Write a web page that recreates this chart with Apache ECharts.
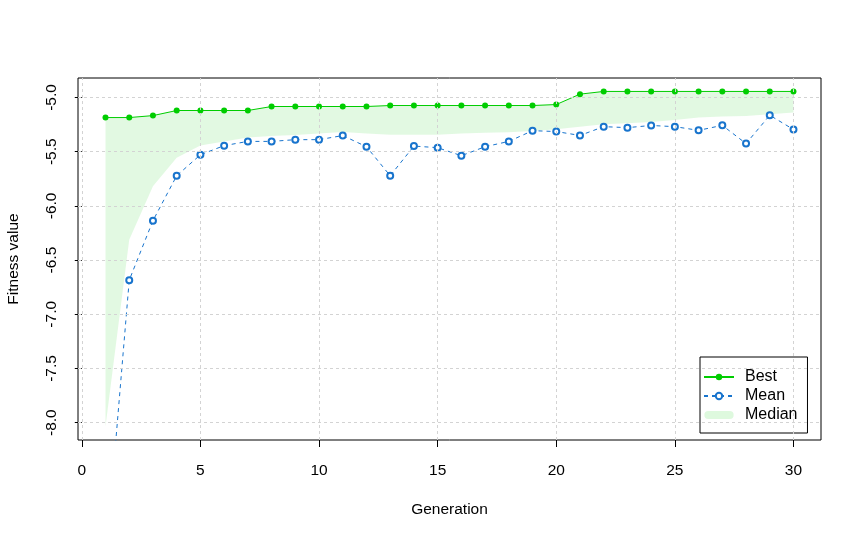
<!DOCTYPE html>
<html>
<head>
<meta charset="utf-8">
<script src="https://cdn.jsdelivr.net/npm/echarts@6/dist/echarts.min.js"></script>
<style>
html,body{margin:0;padding:0;background:#fff;}
#chart{width:862px;height:538px;}
</style>
</head>
<body>
<div id="chart"></div>
<script>
const generations = [1,2,3,4,5,6,7,8,9,10,11,12,13,14,15,16,17,18,19,20,21,22,23,24,25,26,27,28,29,30];
const best = [-5.185,-5.185,-5.167,-5.120,-5.120,-5.120,-5.120,-5.083,-5.083,-5.083,-5.083,-5.083,-5.074,-5.074,-5.074,-5.074,-5.074,-5.074,-5.074,-5.065,-4.969,-4.944,-4.944,-4.944,-4.944,-4.944,-4.944,-4.944,-4.944,-4.944];
const mean = [-9.30,-6.685,-6.136,-5.722,-5.528,-5.444,-5.405,-5.405,-5.389,-5.389,-5.351,-5.454,-5.722,-5.448,-5.463,-5.537,-5.454,-5.405,-5.306,-5.314,-5.350,-5.269,-5.278,-5.258,-5.269,-5.303,-5.257,-5.425,-5.164,-5.295];
const median = [-8.035,-6.312,-5.819,-5.556,-5.442,-5.405,-5.370,-5.356,-5.346,-5.333,-5.319,-5.333,-5.343,-5.343,-5.343,-5.331,-5.324,-5.321,-5.308,-5.294,-5.269,-5.247,-5.238,-5.226,-5.207,-5.185,-5.176,-5.170,-5.155,-5.139];
const xTicks = [0,5,10,15,20,25,30];
const yTicks = [-8.0,-7.5,-7.0,-6.5,-6.0,-5.5,-5.0];

const FONT = 'Liberation Sans, Arial, sans-serif';
const FS = 15.5;
const GREEN = '#00CD00';
const BLUE = '#1874CD';
const FILL = 'rgba(0,205,0,0.115)';

const pair = arr => generations.map((g, i) => [g, arr[i]]);
const bandData = generations.map((g, i) => [g, median[i], best[i]]);
const gridLines = xTicks.map(v => ({xAxis: v})).concat(yTicks.map(v => ({yAxis: v})));

const chart = echarts.init(document.getElementById('chart'), null, {renderer: 'canvas'});
chart.setOption({
  animation: false,
  backgroundColor: '#fff',
  textStyle: {fontFamily: FONT},
  grid: {left: 78, top: 78, right: 41, bottom: 98, show: true, borderColor: '#000', borderWidth: 1,
    backgroundColor: 'transparent', containLabel: false, outerBoundsMode: 'none'},
  xAxis: {
    type: 'value', min: -0.16, max: 31.16,
    name: 'Generation', nameLocation: 'middle', nameGap: 62,
    nameTextStyle: {color: '#000', fontSize: FS, fontFamily: FONT},
    axisLine: {show: false},
    axisTick: {show: true, length: 7, customValues: xTicks, lineStyle: {color: '#000'}},
    axisLabel: {customValues: xTicks, color: '#000', fontSize: FS, fontFamily: FONT, margin: 23},
    splitLine: {show: false}
  },
  yAxis: {
    type: 'value', min: -8.16, max: -4.82,
    name: 'Fitness value', nameLocation: 'middle', nameGap: 56, nameRotate: 90,
    nameTextStyle: {color: '#000', fontSize: FS, fontFamily: FONT},
    axisLine: {show: false},
    axisTick: {show: true, length: 7, customValues: yTicks, lineStyle: {color: '#000'}},
    axisLabel: {customValues: yTicks, color: '#000', fontSize: FS, fontFamily: FONT, margin: 18, rotate: 90,
      formatter: v => v.toFixed(1)},
    splitLine: {show: false}
  },
  legend: {
    orient: 'vertical', left: 700, top: 357,
    backgroundColor: '#fff', borderColor: '#000', borderWidth: 1, borderRadius: 0,
    padding: [11, 10, 9, 3], itemGap: 1, itemWidth: 30, itemHeight: 8,
    textStyle: {color: '#000', fontSize: 16, fontFamily: FONT, lineHeight: 18, padding: [0, 0, 0, 6]},
    data: [
      {name: 'Best'},
      {name: 'Mean'},
      {name: 'Median', icon: 'path://M5,0 H29 A4.5,4.5 0 0 1 29,9 H5 A4.5,4.5 0 0 1 5,0 Z', itemStyle: {color: 'rgba(0,205,0,0.13)'}}
    ]
  },
  series: [
    {
      name: 'Median', type: 'custom', data: bandData, encode: {x: 0, y: [1, 2]},
      itemStyle: {color: FILL}, silent: true, z: 1,
      renderItem: (params, api) => {
        if (params.dataIndex !== 0) return null;
        const lower = generations.map((g, i) => api.coord([g, median[i]]));
        const upper = generations.map((g, i) => api.coord([g, best[i]])).reverse();
        return {type: 'polygon', shape: {points: lower.concat(upper)}, style: {fill: FILL, stroke: null}};
      },
      markLine: {
        silent: true, symbol: 'none', label: {show: false},
        lineStyle: {color: '#D3D3D3', type: [3, 3], width: 1},
        data: gridLines
      }
    },
    {
      name: 'Best', type: 'line', data: pair(best), symbol: 'circle', symbolSize: 6,
      lineStyle: {color: GREEN, width: 1}, itemStyle: {color: GREEN}, z: 4
    },
    {
      name: 'Mean', type: 'line', data: pair(mean), symbol: 'emptyCircle', symbolSize: 6,
      lineStyle: {color: BLUE, width: 1, type: [4, 4]}, itemStyle: {color: BLUE, borderWidth: 1}, z: 3
    }
  ]
});
</script>
</body>
</html>
